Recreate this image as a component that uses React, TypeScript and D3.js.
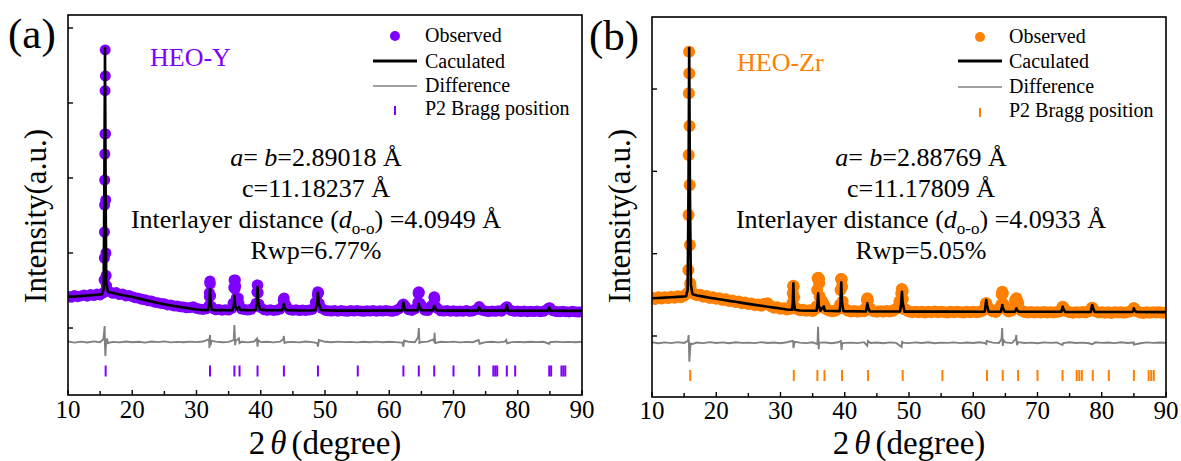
import React from 'react';
import * as d3 from 'd3';

// ---------- shared grids / ticks ----------
const gridTheta = d3.range(161).map((i) => 10 + i * 0.5); // observed scan grid (0.5° step)
const diffGrid = d3.range(81).map((i) => 10 + i); // difference grid (1° step)
const xMajorTicks = [10, 20, 30, 40, 50, 60, 70, 80, 90];
const xMinorTicks = [15, 25, 35, 45, 55, 65, 75, 85];
const yTicksY = [0, 1000, 2000, 3000, 4000];
const yTicksZr = [0, 1000, 2000, 3000];
const legendLabels = ['Observed', 'Caculated', 'Difference', 'P2 Bragg position'];

// ---------- HEO-Y (a) ----------
const obsBgY = [
  425, 410, 432, 418, 428, 440, 424, 446, 433, 452,
  441, 470, 560, 485, 462, 472, 446, 455, 428, 432,
  418, 402, 398, 382, 376, 362, 360, 344, 338, 328,
  322, 308, 308, 294, 292, 282, 280, 270, 272, 282,
  262, 252, 248, 256, 420, 262, 242, 248, 238, 244,
  240, 262, 520, 400, 252, 246, 240, 250, 285, 570,
  272, 244, 236, 242, 234, 240, 252, 370, 295, 244,
  236, 242, 232, 240, 234, 240, 248, 340, 470, 262,
  238, 230, 226, 232, 224, 232, 228, 222, 232, 226,
  234, 228, 222, 230, 226, 234, 224, 230, 226, 234,
  228, 222, 232, 256, 300, 290, 244, 234, 256, 470,
  300, 238, 232, 290, 400, 262, 230, 226, 232, 224,
  230, 222, 228, 224, 232, 222, 228, 244, 282, 236,
  226, 220, 228, 222, 230, 224, 262, 255, 232, 222,
  228, 220, 226, 218, 224, 220, 226, 218, 222, 248,
  268, 230, 220, 216, 224, 218, 214, 222, 216, 212,
  218,
];
const obsPeaksY: [number, number][] = [
  [15.62, 640], [15.65, 933], [15.67, 1280], [15.69, 1640], [15.71, 1973], [15.73, 2320], [15.75, 2587],
  [15.77, 3164], [15.79, 3707], [15.81, 3360], [15.84, 2587], [15.87, 1707], [15.9, 1000], [15.94, 700], [15.98, 560],
  [31.95, 300], [32.0, 470], [32.05, 600], [32.1, 627], [32.15, 590], [32.2, 430], [32.3, 290],
  [35.7, 330], [35.8, 540], [35.85, 640], [35.95, 630], [36.05, 640], [36.1, 560], [36.2, 400], [36.35, 300], [36.6, 330],
  [39.3, 330], [39.4, 480], [39.45, 573], [39.55, 570], [39.6, 470], [39.7, 320],
  [43.45, 300], [43.55, 390], [43.65, 400], [43.75, 330],
  [48.7, 320], [48.8, 440], [48.88, 484], [48.96, 470], [49.1, 330],
  [62.1, 300], [62.2, 320], [62.3, 295],
  [64.45, 340], [64.52, 460], [64.6, 484], [64.68, 470], [64.78, 330],
  [66.85, 320], [66.95, 410], [67.02, 417], [67.1, 390], [67.2, 290],
  [73.9, 270], [74.0, 284], [74.1, 270],
  [78.2, 270], [78.3, 284], [78.4, 270],
  [84.8, 260], [84.9, 271], [85.0, 262],
];
const calcY: [number, number][] = [
  [10, 417], [12, 425], [14, 440], [15.3, 450], [15.55, 520], [15.65, 1800], [15.76, 3733], [15.86, 1800],
  [15.95, 600], [16.2, 490], [16.5, 475], [17, 467], [18, 447], [19, 430], [20, 413], [21, 393], [22, 373],
  [23, 353], [24, 333], [25, 317], [26, 300], [27, 287], [28, 273], [29, 260], [30, 247], [31, 240],
  [31.8, 240], [32.0, 330], [32.1, 520], [32.2, 330], [32.4, 245], [33, 238], [35.6, 236], [35.8, 300],
  [35.9, 430], [36.0, 300], [36.3, 245], [36.6, 280], [36.8, 242], [38, 236], [39.2, 240], [39.4, 350],
  [39.5, 547], [39.6, 350], [39.9, 245], [41, 236], [43.3, 236], [43.5, 270], [43.6, 320], [43.7, 270],
  [44, 238], [46, 234], [48.5, 236], [48.75, 320], [48.9, 470], [49.05, 320], [49.4, 238], [52, 232],
  [55, 232], [55.1, 240], [55.2, 232], [62, 234], [62.1, 290], [62.2, 340], [62.3, 290], [62.5, 236],
  [64.4, 236], [64.55, 290], [64.6, 320], [64.7, 280], [65, 236], [66.8, 236], [66.95, 280], [67.0, 295],
  [67.1, 270], [67.4, 234], [70, 232], [73.8, 232], [73.95, 275], [74.05, 260], [74.3, 232], [78.1, 232],
  [78.3, 300], [78.5, 232], [84.7, 230], [84.9, 272], [85.1, 230], [90, 228],
];
const diffBgY = [
  -180, -195, -182, -192, -178, -190, -200, -185, -192, -180,
  -190, -183, -195, -180, -188, -178, -192, -185, -190, -182,
  -188, -180, -200, -182, -190, -185, -190, -183, -192, -180,
  -188, -184, -191, -182, -190, -185, -192, -180, -188, -195,
  -184, -190, -182, -188, -185, -192, -183, -189, -181, -190,
  -184, -188, -195, -183, -190, -186, -182, -190, -184, -188,
  -182, -191, -185, -189, -180, -188, -184, -191, -182, -188,
  -185, -190, -183, -188, -184, -190, -182, -188, -185, -190,
  -184,
];
const diffSpikesY: [number, number][] = [
  [15.5, -150], [15.62, -60], [15.7, 27], [15.76, -250], [15.82, -373], [15.9, -230], [16.05, -140], [16.2, -200],
  [31.9, -150], [32.0, -267], [32.1, -93], [32.2, -230], [32.3, -170],
  [35.8, -160], [35.9, 40], [36.0, -230], [36.1, -170], [36.6, -140], [36.7, -200],
  [39.4, -140], [39.5, -250], [39.6, -160],
  [43.5, -150], [43.6, -107], [43.7, -200],
  [48.8, -200], [48.9, -249], [49.05, -160],
  [62.1, -210], [62.2, -249], [62.3, -170],
  [64.5, -120], [64.6, 0], [64.7, -200],
  [66.9, -150], [67.05, -62], [67.15, -200],
  [73.9, -160], [74.05, -210], [78.2, -160], [78.35, -205], [84.9, -210],
];
const braggY = [15.86, 32.1, 35.9, 36.7, 39.5, 43.6, 48.9, 55.1, 62.2, 64.6, 67.0, 70.0, 74.0, 76.2, 76.5, 76.8, 78.3, 79.6, 84.9, 85.2, 86.8, 87.1, 87.4];

// ---------- HEO-Zr (b) ----------
const obsBgZr = [
  465, 450, 470, 455, 472, 460, 478, 466, 482, 470,
  488, 520, 600, 515, 495, 502, 478, 485, 462, 470,
  452, 458, 438, 446, 425, 432, 412, 420, 398, 408,
  388, 395, 375, 384, 368, 392, 398, 360, 342, 348,
  330, 336, 322, 330, 600, 330, 312, 318, 306, 314,
  304, 330, 690, 420, 330, 310, 302, 308, 330, 690,
  330, 306, 298, 304, 296, 302, 300, 440, 330, 300,
  294, 302, 296, 304, 298, 306, 330, 420, 540, 320,
  298, 290, 296, 288, 294, 286, 296, 290, 298, 288,
  296, 290, 286, 294, 288, 296, 290, 286, 294, 288,
  296, 288, 294, 310, 397, 330, 300, 292, 330, 530,
  330, 298, 310, 430, 400, 310, 292, 286, 292, 284,
  290, 284, 292, 286, 290, 284, 292, 300, 350, 300,
  288, 282, 290, 284, 292, 286, 300, 340, 300, 286,
  290, 282, 288, 280, 290, 284, 288, 282, 290, 300,
  336, 300, 286, 280, 288, 282, 290, 284, 288, 282,
  286,
];
const obsPeaksZr: [number, number][] = [
  [15.66, 802], [15.69, 1470], [15.72, 2198], [15.75, 2948], [15.78, 3453], [15.81, 3190], [15.84, 2551],
  [15.87, 1834], [15.9, 1105], [15.95, 640],
  [31.85, 400], [31.92, 520], [31.98, 611], [32.05, 600], [32.12, 470], [32.2, 350],
  [35.6, 360], [35.7, 560], [35.78, 700], [35.86, 708], [35.95, 700], [36.02, 640], [36.1, 480], [36.2, 360], [36.8, 380],
  [39.25, 380], [39.35, 560], [39.42, 692], [39.5, 690], [39.58, 600], [39.68, 420],
  [43.35, 350], [43.45, 440], [43.52, 458], [43.6, 430], [43.7, 340],
  [48.7, 380], [48.8, 520], [48.88, 571], [48.96, 560], [49.05, 450], [49.15, 330],
  [61.9, 360], [62.0, 397], [62.1, 370],
  [64.35, 380], [64.44, 500], [64.52, 538], [64.6, 520], [64.7, 390],
  [66.55, 380], [66.65, 450], [66.72, 458], [66.8, 430], [66.9, 340],
  [73.8, 330], [73.9, 356], [74.0, 340],
  [78.4, 330], [78.5, 344], [78.6, 330],
  [84.9, 320], [85.0, 336], [85.1, 320],
];
const calcZr: [number, number][] = [
  [10, 458], [11, 462], [12, 466], [13, 470], [14, 475], [15, 480], [15.3, 482], [15.55, 560], [15.68, 1800],
  [15.79, 3498], [15.9, 1800], [16.05, 620], [16.3, 510], [16.6, 500], [17, 492], [18, 478], [19, 465],
  [20, 452], [21, 440], [22, 427], [23, 415], [24, 402], [25, 390], [26, 378], [27, 367], [28, 356],
  [29, 345], [30, 335], [31, 322], [31.8, 318], [31.92, 420], [32.0, 640], [32.08, 420], [32.25, 318],
  [33, 310], [35, 306], [35.6, 306], [35.75, 380], [35.85, 519], [35.95, 380], [36.2, 308], [36.75, 360],
  [36.9, 306], [39.2, 302], [39.35, 420], [39.46, 652], [39.56, 420], [39.8, 302], [43.3, 298], [43.45, 360],
  [43.52, 397], [43.62, 350], [43.9, 298], [46.3, 298], [48.6, 297], [48.78, 400], [48.9, 538], [49.02, 400],
  [49.3, 296], [55, 296], [61.8, 295], [61.95, 400], [62.02, 437], [62.12, 380], [62.4, 295], [64.3, 295],
  [64.45, 350], [64.52, 377], [64.62, 340], [64.9, 295], [66.5, 294], [66.65, 320], [66.72, 336], [66.82, 315],
  [67.1, 294], [70, 294], [73.7, 294], [73.86, 340], [73.92, 356], [74.02, 330], [74.3, 293], [78.3, 292],
  [78.45, 360], [78.52, 377], [78.62, 345], [78.9, 292], [84.8, 291], [84.95, 320], [85.0, 336], [85.1, 315],
  [85.4, 291], [90, 290],
];
const diffBgZr = [
  -76, -88, -78, -86, -74, -84, -90, -79, -86, -75,
  -85, -78, -88, -76, -84, -80, -87, -75, -85, -79,
  -88, -76, -84, -80, -86, -77, -85, -79, -88, -76,
  -84, -80, -86, -75, -85, -79, -88, -77, -84, -80,
  -86, -78, -85, -76, -88, -80, -84, -77, -86, -79,
  -85, -76, -88, -80, -84, -78, -86, -75, -85, -80,
  -88, -77, -84, -79, -86, -76, -85, -80, -88, -77,
  -84, -79, -86, -76, -85, -80, -88, -77, -84, -79,
  -82,
];
const diffSpikesZr: [number, number][] = [
  [15.6, -60], [15.7, 12], [15.76, -150], [15.82, -312], [15.9, -200], [16.05, -90], [16.2, -100],
  [31.9, -60], [32.0, -146], [32.1, -110], [32.2, -70],
  [35.75, -100], [35.85, 113], [35.95, -160], [36.05, -80],
  [39.4, -60], [39.5, -170], [39.6, -90],
  [43.5, -120], [43.6, -60],
  [48.85, -134], [48.95, -60],
  [62.0, -110], [62.1, -60],
  [64.4, -40], [64.5, 97], [64.6, -120], [64.7, -50],
  [66.6, -40], [66.7, 12], [66.8, -110],
  [73.9, -110], [78.5, -100], [85.0, -105],
];
const braggZr = [15.95, 32.07, 35.74, 36.85, 39.57, 43.63, 49.02, 55.2, 62.14, 64.59, 66.98, 70.0, 73.9, 76.1, 76.5, 76.9, 78.6, 81.1, 85.0, 87.3, 87.7, 88.1];

// ---------- rendering ----------
const FONT = "'Liberation Serif', 'Times New Roman', Times, serif";
type Pt = [number, number];

function Panel(p: any) {
  const x = d3.scaleLinear().domain([10, 90]).range([p.left, p.right]);
  const y = d3.scaleLinear().domain(p.yDomain).range([p.bottom, p.top]);
  const obs: Pt[] = [...gridTheta.map((t, i) => [t, p.obsBg[i]] as Pt), ...p.obsPeaks];
  const calc: Pt[] = [...p.calc].sort((a: Pt, b: Pt) => a[0] - b[0]);
  const diff: Pt[] = [...diffGrid.map((t, i) => [t, p.diffBg[i]] as Pt), ...p.diffSpikes].sort((a: Pt, b: Pt) => a[0] - b[0]);
  const line = d3.line<Pt>().x((d) => x(d[0])).y((d) => y(d[1]));
  const clipId = `clip-${p.id}`;
  const by = y(p.braggLevel);
  const cx = p.textCenter;
  const lg = p.legend;
  return (
    <g fontFamily={FONT}>
      <defs>
        <clipPath id={clipId}>
          <rect x={p.left} y={p.top} width={p.right - p.left} height={p.bottom - p.top} />
        </clipPath>
      </defs>
      <g clipPath={`url(#${clipId})`}>
        {obs.map((d, i) => (
          <circle key={i} cx={x(d[0])} cy={y(d[1])} r={p.r} fill={p.color} />
        ))}
        <path d={line(diff) || ''} fill="none" stroke="#808080" strokeWidth={1.9} />
        <path d={line(calc) || ''} fill="none" stroke="#000" strokeWidth={2.6} strokeLinejoin="round" />
        {p.bragg.map((t: number, i: number) => (
          <line key={i} x1={x(t)} x2={x(t)} y1={by - 5.5} y2={by + 5.5} stroke={p.color} strokeWidth={2} />
        ))}
      </g>
      <rect x={p.left} y={p.top} width={p.right - p.left} height={p.bottom - p.top} fill="none" stroke="#000" strokeWidth={1.6} />
      {xMajorTicks.map((t) => (
        <g key={'M' + t}>
          <line x1={x(t)} x2={x(t)} y1={p.bottom} y2={p.bottom - 5} stroke="#000" strokeWidth={1.4} />
          <text x={x(t)} y={p.tickLabelY} textAnchor="middle" fontSize={25}>{t}</text>
        </g>
      ))}
      {xMinorTicks.map((t) => (
        <line key={'m' + t} x1={x(t)} x2={x(t)} y1={p.bottom} y2={p.bottom - 4} stroke="#000" strokeWidth={1.4} />
      ))}
      {p.yTicks.map((t: number) => (
        <line key={'y' + t} x1={p.left} x2={p.left + 5} y1={y(t)} y2={y(t)} stroke="#000" strokeWidth={1.4} />
      ))}
      <text x={(p.left + p.right) / 2} y={454} textAnchor="middle" fontSize={33}>
        2<tspan dx={5} fontStyle="italic">θ</tspan><tspan dx={5}>(degree)</tspan>
      </text>
      <text transform={`translate(${p.left - 22},${216}) rotate(-90)`} textAnchor="middle" fontSize={31}>Intensity(a.u.)</text>
      <text x={p.letterX} y={p.letterY} fontSize={43}>{p.letter}</text>
      <text x={p.nameX} y={p.nameY} fontSize={26} fill={p.color}>{p.name}</text>
      {/* legend */}
      <circle cx={lg.sx} cy={lg.rows[0] - 6} r={5} fill={p.color} />
      <line x1={lg.sx - 22} x2={lg.sx + 22} y1={lg.rows[1] - 7} y2={lg.rows[1] - 7} stroke="#000" strokeWidth={3} />
      <line x1={lg.sx - 22} x2={lg.sx + 22} y1={lg.rows[2] - 6} y2={lg.rows[2] - 6} stroke="#808080" strokeWidth={1.5} />
      <line x1={lg.sx} x2={lg.sx} y1={lg.rows[3] - 9} y2={lg.rows[3]} stroke={p.color} strokeWidth={2} />
      {legendLabels.map((s, i) => (
        <text key={s} x={lg.tx} y={lg.rows[i]} fontSize={20}>{s}</text>
      ))}
      {/* parameters */}
      <text x={cx} y={166} textAnchor="middle" fontSize={26}>
        <tspan fontStyle="italic">a</tspan>{'= '}<tspan fontStyle="italic">b</tspan>{p.ab}
      </text>
      <text x={cx} y={197} textAnchor="middle" fontSize={26}>{p.c}</text>
      <text x={cx} y={228} textAnchor="middle" fontSize={26}>
        {'Interlayer distance ('}<tspan fontStyle="italic">d</tspan>
        <tspan fontSize={17} dy={6}>o-o</tspan>
        <tspan dy={-6}>{p.dist}</tspan>
      </text>
      <text x={cx} y={259} textAnchor="middle" fontSize={26}>{p.rwp}</text>
    </g>
  );
}

export default function App() {
  return (
    <div style={{ position: 'absolute', left: 0, top: 0 }}>
      <svg width={1181} height={461} style={{ display: 'block', background: '#fff' }}>
        <Panel
          id="a" left={68} right={582} top={15} bottom={395} yDomain={[-893, 4173]} yTicks={yTicksY}
          color="#7f00ff" r={5.5} obsBg={obsBgY} obsPeaks={obsPeaksY} calc={calcY} diffBg={diffBgY}
          diffSpikes={diffSpikesY} bragg={braggY} braggLevel={-573} tickLabelY={418}
          letter="(a)" letterX={8} letterY={48} name="HEO-Y" nameX={150} nameY={66}
          legend={{ sx: 395, tx: 425, rows: [42, 68, 92, 115] }}
          textCenter={316} ab="=2.89018 Å" c="c=11.18237 Å" dist=") =4.0949 Å" rwp="Rwp=6.77%"
        />
        <Panel
          id="b" left={652} right={1166} top={17} bottom={397} yDomain={[-741, 3875]} yTicks={yTicksZr}
          color="#ff8000" r={6} obsBg={obsBgZr} obsPeaks={obsPeaksZr} calc={calcZr} diffBg={diffBgZr}
          diffSpikes={diffSpikesZr} bragg={braggZr} braggLevel={-480} tickLabelY={419}
          letter="(b)" letterX={589} letterY={50} name="HEO-Zr" nameX={737} nameY={71}
          legend={{ sx: 980, tx: 1009, rows: [43, 68, 93, 117] }}
          textCenter={921} ab="=2.88769 Å" c="c=11.17809 Å" dist=") =4.0933 Å" rwp="Rwp=5.05%"
        />
      </svg>
    </div>
  );
}
